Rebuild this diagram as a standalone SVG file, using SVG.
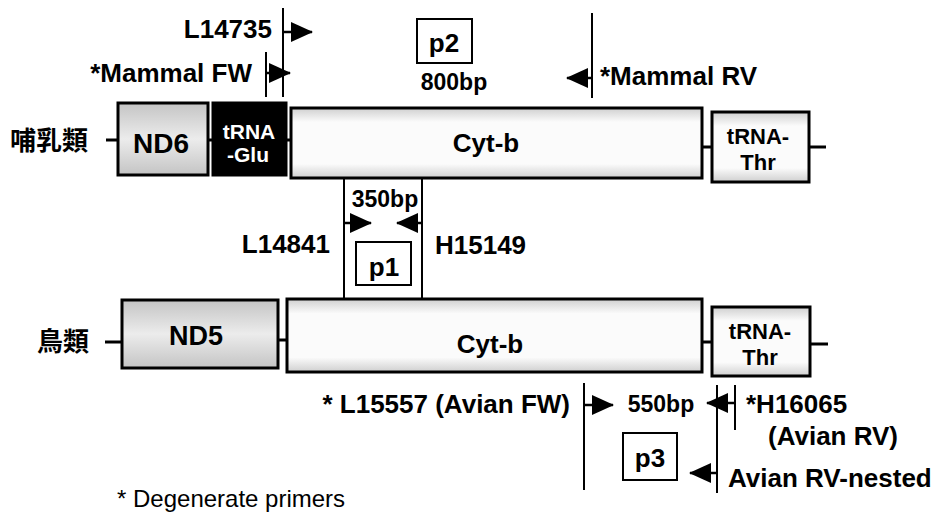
<svg xmlns="http://www.w3.org/2000/svg" width="945" height="517" viewBox="0 0 945 517">
<style>
text{font-family:"Liberation Sans",Arial,sans-serif;font-weight:bold;fill:#000}
.l{font-size:26px}
.s{font-size:23px}
.t{font-size:22px}
.cjk{font-family:"Liberation Sans","Noto Sans CJK TC",sans-serif;font-size:26px;font-weight:bold}
.box{stroke:#000;stroke-width:3}
.nd{fill:url(#gNd)}
.cy{fill:url(#gCy)}
.pl{fill:#fff;stroke:#000;stroke-width:2}
.ln{stroke:#000;stroke-width:2;fill:none}
.tk{stroke:#000;stroke-width:3;fill:none}
.ar{stroke:#000;stroke-width:2.5;fill:none;marker-end:url(#ah)}
</style>
<defs>
<marker id="ah" viewBox="0 0 22 20" refX="21" refY="10" markerWidth="22" markerHeight="20" markerUnits="userSpaceOnUse" orient="auto">
<path d="M0,0 L22,10 L0,20 z" fill="#000"/>
</marker>
<linearGradient id="gNd" x1="0" y1="0" x2="0" y2="1">
<stop offset="0" stop-color="#c4c4c4"/><stop offset="0.5" stop-color="#ececec"/><stop offset="1" stop-color="#c4c4c4"/>
</linearGradient>
<linearGradient id="gCy" x1="0" y1="0" x2="0" y2="1">
<stop offset="0" stop-color="#cfcfcf"/><stop offset="0.2" stop-color="#fbfbfb"/><stop offset="0.8" stop-color="#fbfbfb"/><stop offset="1" stop-color="#cfcfcf"/>
</linearGradient>
</defs>

<g id="connectors">
<line class="tk" x1="106" y1="140" x2="118" y2="140"/>
<line class="tk" x1="208" y1="140" x2="213" y2="140"/>
<line class="tk" x1="286" y1="140" x2="291" y2="140"/>
<line class="tk" x1="702" y1="147" x2="712" y2="147"/>
<line class="tk" x1="809" y1="147" x2="826" y2="147"/>
<line class="tk" x1="105" y1="342" x2="122" y2="342"/>
<line class="tk" x1="278" y1="340" x2="287" y2="340"/>
<line class="tk" x1="702" y1="342" x2="712" y2="342"/>
<line class="tk" x1="810" y1="344" x2="828" y2="344"/>
<line class="ln" x1="283" y1="8" x2="283" y2="97"/>
<line class="ln" x1="266" y1="52" x2="266" y2="97"/>
<line class="ln" x1="592" y1="13" x2="592" y2="98"/>
<line class="ln" x1="344" y1="178" x2="344" y2="299"/>
<line class="ln" x1="422" y1="178" x2="422" y2="299"/>
<line class="ln" x1="584" y1="383" x2="584" y2="490"/>
<line class="ln" x1="717" y1="385" x2="717" y2="493"/>
<line class="ln" x1="735" y1="385" x2="735" y2="430"/>
<line class="ar" x1="283" y1="32" x2="312" y2="32"/>
<line class="ar" x1="266" y1="73" x2="290" y2="73"/>
<line class="ar" x1="592" y1="78" x2="567" y2="78"/>
<line class="ar" x1="344" y1="223" x2="371" y2="223"/>
<line class="ar" x1="422" y1="223" x2="397" y2="223"/>
<line class="ar" x1="584" y1="405" x2="613" y2="405"/>
<line class="ar" x1="735" y1="403" x2="707" y2="403"/>
<line class="ar" x1="717" y1="473" x2="690" y2="473"/>
</g>

<g id="label-mammal"><text class="cjk" x="10" y="150">哺乳類</text></g>
<g id="label-bird"><text class="cjk" x="37" y="351">鳥類</text></g>

<g id="m-nd6"><rect class="box nd" x="118" y="103" width="90" height="72"/><text x="161" y="153" text-anchor="middle" font-size="28">ND6</text></g>
<g id="m-trnaglu"><rect class="box" x="213" y="103" width="73" height="72" fill="#000"/><text x="249" y="139" text-anchor="middle" font-size="21" style="fill:#fff">tRNA</text><text x="248" y="162" text-anchor="middle" font-size="21" style="fill:#fff">-Glu</text></g>
<g id="m-cytb"><rect class="box cy" x="291" y="108" width="411" height="70"/><text class="l" x="486" y="152" text-anchor="middle">Cyt-b</text></g>
<g id="m-trnathr"><rect class="box cy" x="712" y="112" width="97" height="70"/><text class="t" x="758" y="144" text-anchor="middle">tRNA-</text><text class="t" x="758" y="170" text-anchor="middle">Thr</text></g>

<g id="b-nd5"><rect class="box nd" x="122" y="300" width="156" height="68"/><text x="196" y="345" text-anchor="middle" font-size="27">ND5</text></g>
<g id="b-cytb"><rect class="box cy" x="287" y="299" width="415" height="73"/><text class="l" x="490" y="353" text-anchor="middle">Cyt-b</text></g>
<g id="b-trnathr"><rect class="box cy" x="712" y="307" width="98" height="69"/><text class="t" x="760" y="339" text-anchor="middle">tRNA-</text><text class="t" x="760" y="365" text-anchor="middle">Thr</text></g>

<g id="p2"><rect class="pl" x="417" y="19" width="55" height="44"/><text class="l" x="444" y="52" text-anchor="middle">p2</text></g>
<g id="p1"><rect class="pl" x="356" y="242" width="55" height="43"/><text class="l" x="384" y="276" text-anchor="middle">p1</text></g>
<g id="p3"><rect class="pl" x="623" y="433" width="54" height="47"/><text class="l" x="650" y="467" text-anchor="middle">p3</text></g>

<g id="primer-labels">
<text class="l" x="272" y="38" text-anchor="end">L14735</text>
<text class="l" x="252" y="82" text-anchor="end">*Mammal FW</text>
<text class="s" x="454" y="90" text-anchor="middle">800bp</text>
<text class="l" x="600" y="85">*Mammal RV</text>
<text class="s" x="385" y="207" text-anchor="middle">350bp</text>
<text class="l" x="330" y="253" text-anchor="end">L14841</text>
<text class="l" x="435" y="254">H15149</text>
<text class="l" x="570" y="413" text-anchor="end">* L15557 (Avian FW)</text>
<text class="s" x="661" y="412" text-anchor="middle">550bp</text>
<text class="l" x="746" y="413">*H16065</text>
<text class="l" x="768" y="445">(Avian RV)</text>
<text class="l" x="728" y="487">Avian RV-nested</text>
</g>
<g id="footnote"><text x="117" y="507" font-size="24" style="font-weight:normal">* Degenerate primers</text></g>
</svg>
